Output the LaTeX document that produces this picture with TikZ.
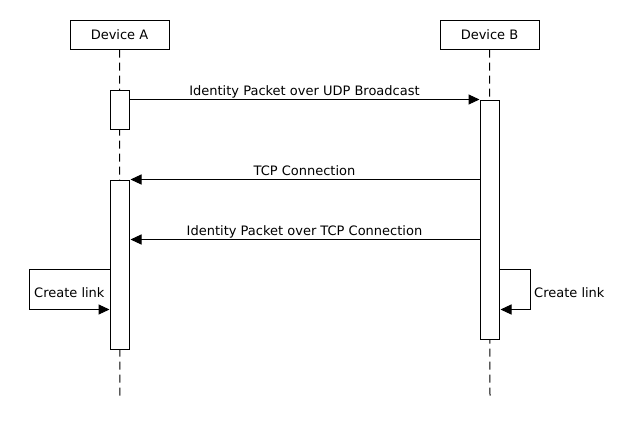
\documentclass[tikz,border=0pt]{standalone}
\usepackage{fontspec}
\setmainfont{DejaVu Sans}
\usetikzlibrary{arrows.meta}
\begin{document}
\begin{tikzpicture}[x=1pt,y=-1pt,
  every node/.style={font=\fontsize{13}{15}\selectfont, inner sep=0pt},
  actor/.style={draw, line width=1pt, fill=white, minimum width=99pt, minimum height=29pt},
  act/.style={draw, line width=1pt, fill=white, minimum width=19pt},
  life/.style={line width=1pt, dash pattern=on 8pt off 5pt},
  msg/.style={line width=1pt, -{Triangle[length=11pt,width=10pt]}},
  lbl/.style={anchor=base}]
\useasboundingbox (0,0) rectangle (640,440);
\node[actor] (devA) at (119.5,34.5) {Device A};
\node[actor] (devB) at (489.5,34.5) {Device B};
\coordinate (endA) at (120,398);
\coordinate (endB) at (490,398);
\draw[life] (devA.south) -- (endA);
\draw[life] (devB.south) -- (endB);
\node[act, minimum height=39pt] (a1) at (119.5,109.5) {};
\node[act, minimum height=239pt] (b1) at (489.5,219.5) {};
\node[act, minimum height=169pt] (a2) at (119.5,264.5) {};
% message 1
\draw[msg] ([yshift=-10pt]a1.north east) -- (b1.north west)
  node[midway, lbl, yshift=4pt] {Identity Packet over UDP Broadcast};
% message 2
\draw[msg, shorten >=1pt] ([yshift=-80pt]b1.north west) -- (a2.north east)
  node[midway, lbl, yshift=4pt] {TCP Connection};
% message 3
\draw[msg, shorten >=1pt] ([yshift=-140pt]b1.north west) -- ([yshift=-60pt]a2.north east)
  node[midway, lbl, yshift=4pt] {Identity Packet over TCP Connection};
% self loop A
\draw[msg] ([yshift=-90pt]a2.north west) -- ++(-80,0) |- ([yshift=-130pt]a2.north west);
\node[anchor=base west] (lblA) at (34,297) {Create link};
% self loop B
\draw[msg, shorten >=1pt] ([yshift=-170pt]b1.north east) -- ++(31,0) |- ([yshift=-210pt]b1.north east);
\node[anchor=base west] (lblB) at (534,297) {Create link};
\end{tikzpicture}
\end{document}
